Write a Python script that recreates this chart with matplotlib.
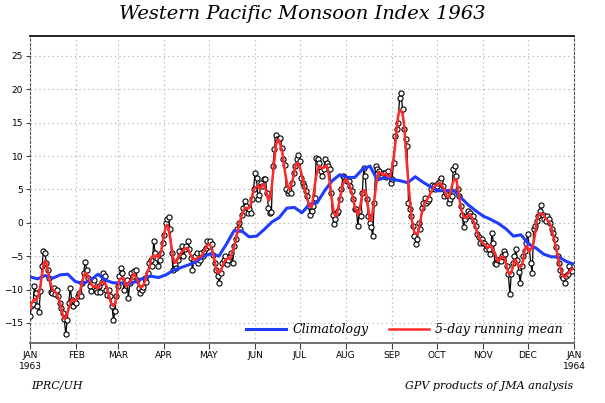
import numpy as np
import matplotlib
matplotlib.use('Agg')
import matplotlib.pyplot as plt
import pandas as pd

# daily index values, one list per month
jan = [-14.0, -12.5, -12.2, -9.5, -10.5, -12.5, -13.4, -10.2, -6.5, -4.3,
       -4.5, -6.0, -7.0, -8.3, -10.3, -10.5, -9.8, -10.6, -10.0, -11.0,
       -12.0, -12.8, -13.5, -14.4, -16.7, -14.5, -12.0, -9.7, -11.5, -12.5, -11.8]
feb = [-12.0, -11.0, -10.5, -11.0, -9.0, -7.5, -5.8, -7.0, -8.2, -9.5,
       -10.2, -9.0, -8.6, -10.0, -10.4, -9.5, -10.3, -8.8, -7.5, -8.0,
       -10.0, -10.8, -10.0, -11.0, -12.5, -14.6, -13.2, -11.0]
mar = [-9.5, -8.0, -6.7, -7.5, -10.0, -9.0, -8.5, -11.2, -9.0, -7.5,
       -8.0, -7.2, -7.0, -8.5, -9.8, -10.5, -10.0, -9.6, -8.2, -8.8,
       -7.5, -6.0, -5.5, -6.5, -2.7, -4.5, -5.2, -6.4, -5.5, -4.5, -3.0]
apr = [-1.8, 0.0, 0.5, 0.8, -1.0, -4.5, -7.0, -6.2, -6.8, -5.5,
       -4.2, -4.8, -3.5, -5.0, -4.0, -3.5, -2.7, -4.0, -5.2, -7.0,
       -5.5, -5.0, -4.6, -6.0, -5.5, -4.5, -5.0, -4.2, -3.8, -2.7]
may = [-3.5, -2.7, -3.2, -4.8, -6.0, -7.0, -8.0, -9.0, -7.5, -6.0,
       -5.5, -5.0, -6.2, -5.5, -5.0, -4.5, -6.0, -3.5, -2.5, -1.0,
       0.0, -1.0, 1.2, 2.2, 3.2, 2.5, 1.5, 2.0, 1.5, 3.5, 5.0]
jun = [7.5, 6.7, 3.5, 4.2, 6.0, 5.5, 6.5, 6.6, 4.5, 2.2,
       1.5, 1.6, 8.5, 11.0, 13.2, 12.5, 12.5, 12.7, 11.2, 9.5,
       8.7, 5.0, 4.5, 4.7, 4.5, 6.0, 7.5, 8.5, 9.5, 10.2]
jul = [9.2, 6.7, 6.0, 5.5, 4.8, 4.0, 2.5, 1.2, 1.7, 2.5,
       3.7, 9.7, 9.5, 9.0, 7.7, 7.0, 8.0, 9.5, 9.0, 8.5,
       8.0, 4.5, 1.2, -0.2, 0.5, 1.5, 1.7, 3.5, 5.0, 7.0, 6.8]
aug = [6.5, 6.2, 6.2, 5.5, 4.7, 3.5, 2.0, 2.0, -0.5, 1.7,
       1.0, 4.5, 8.2, 7.0, 3.5, 1.0, 0.0, -0.7, -2.0, 3.0,
       8.5, 8.0, 7.8, 7.0, 7.0, 7.5, 7.5, 6.8, 7.7, 7.0, 6.0]
sep = [6.5, 9.0, 13.0, 14.0, 15.0, 18.7, 19.4, 17.0, 14.0, 12.5,
       11.5, 3.0, 2.0, 1.0, -0.5, -2.0, -3.2, -2.5, 0.0, -1.0,
       2.2, 3.0, 3.7, 3.0, 3.2, 3.5, 5.0, 5.7, 5.5, 5.0]
oct_ = [5.5, 6.0, 6.2, 6.7, 5.5, 4.0, 4.5, 4.2, 3.0, 3.5,
        4.0, 8.0, 8.5, 7.0, 5.0, 4.0, 2.5, 1.2, -0.7, 0.5,
        1.0, 1.7, 1.5, 1.0, 1.0, 0.2, -0.5, -1.7, -2.2, -3.0, -2.5]
nov = [-3.0, -3.0, -4.0, -3.5, -4.0, -4.7, -1.5, -3.0, -6.0, -6.2,
       -5.5, -5.5, -5.7, -5.0, -4.2, -4.7, -6.5, -7.7, -10.7, -7.7,
       -6.0, -5.0, -4.0, -5.5, -7.3, -9.0, -6.5, -5.0, -4.2, -3.0]
dec = [-1.7, -3.5, -6.0, -7.5, -1.0, -0.5, 0.2, 1.0, 1.7, 2.7,
       1.2, 0.5, 0.3, 1.0, 0.5, 0.0, -1.0, -1.5, -2.5, -3.7,
       -5.0, -6.0, -7.0, -8.0, -8.2, -9.0, -8.0, -7.7, -6.5, -7.0, -7.2]

# climatology, one value per pentad (73 pentads)
clim = [-8.1, -8.4, -7.9, -8.3, -7.8, -7.7, -8.8, -9.1, -8.6, -7.7,
        -8.6, -9.0, -9.0, -9.2, -8.8, -8.3, -8.0, -8.2, -7.8, -7.1,
        -6.7, -6.3, -5.8, -5.0, -4.6, -5.0, -3.2, -1.2, -1.2, -2.1,
        -2.0, -1.0, 0.1, 0.8, 2.2, 2.3, 1.5, 2.8, 3.0, 4.8,
        6.3, 7.2, 6.8, 6.8, 8.0, 8.5, 6.4, 6.8, 6.5, 6.3,
        6.0, 6.9, 6.1, 5.4, 4.8, 4.8, 4.9, 3.8, 2.7, 1.8,
        1.0, 0.5, -0.1, -0.9, -2.0, -1.8, -3.2, -3.8, -4.7, -5.1,
        -5.1, -5.8, -6.2]

months = ['JAN', 'FEB', 'MAR', 'APR', 'MAY', 'JUN', 'JUL', 'AUG', 'SEP', 'OCT', 'NOV', 'DEC']
month_days = [31, 28, 31, 30, 31, 30, 31, 31, 30, 31, 30, 31]

daily = np.array(jan + feb + mar + apr + may + jun + jul + aug + sep + oct_ + nov + dec)
days = np.arange(len(daily))
running = pd.Series(daily).rolling(5, center=True, min_periods=1).mean()
clim_x = np.linspace(0, 365, len(clim))

month_start = np.concatenate([[0], np.cumsum(month_days)])
tick_labels = ['JAN\n1963'] + months[1:] + ['JAN\n1964']

serif_it = dict(family='DejaVu Serif', style='italic')

fig = plt.figure(figsize=(6.05, 4.03), dpi=100, facecolor='white')
ax = fig.add_axes([0.0496, 0.149, 0.899, 0.762])

# daily values
ax.plot(days, daily, color='black', lw=0.9, marker='o', ms=3.7,
        mfc='white', mec='black', mew=0.8, zorder=3)
ax.plot(clim_x, clim, color='#1f3cff', lw=2.2, zorder=4, label='Climatology')
ax.plot(days, running, color='#ff2a2a', lw=1.8, zorder=5, label='5-day running mean')

ax.set_xlim(0, 365)
ax.set_ylim(-18, 28)
ax.set_yticks(np.arange(-15, 26, 5))
ax.set_xticks(month_start)
ax.set_xticklabels(tick_labels)
ax.tick_params(axis='both', labelsize=6.5, length=3, width=0.8, color='#404040', pad=2)
ax.tick_params(axis='x', length=4)

ax.grid(True, color='#a8a8a8', lw=0.8, linestyle=(0, (1, 3)))
ax.set_axisbelow(True)

for side in ['left', 'right']:
    ax.spines[side].set_linestyle((0, (2, 2)))
    ax.spines[side].set_color('#505050')
ax.spines['bottom'].set_color('#707070')
ax.spines['bottom'].set_linewidth(1.4)
ax.spines['top'].set_linewidth(1.2)

ax.legend(loc='lower right', bbox_to_anchor=(1.0, -0.015), ncol=2, frameon=False,
          handlelength=3.2, columnspacing=1.6, handletextpad=0.5,
          prop=dict(size=9, **serif_it))

fig.text(0.5, 0.965, 'Western Pacific Monsoon Index 1963', ha='center', va='center',
         fontsize=14, **serif_it)
fig.text(0.052, 0.043, 'IPRC/UH', ha='left', va='center', fontsize=8, **serif_it)
fig.text(0.948, 0.043, 'GPV products of JMA analysis', ha='right', va='center',
         fontsize=8, **serif_it)

fig.savefig('out.png', dpi=100, facecolor='white')
